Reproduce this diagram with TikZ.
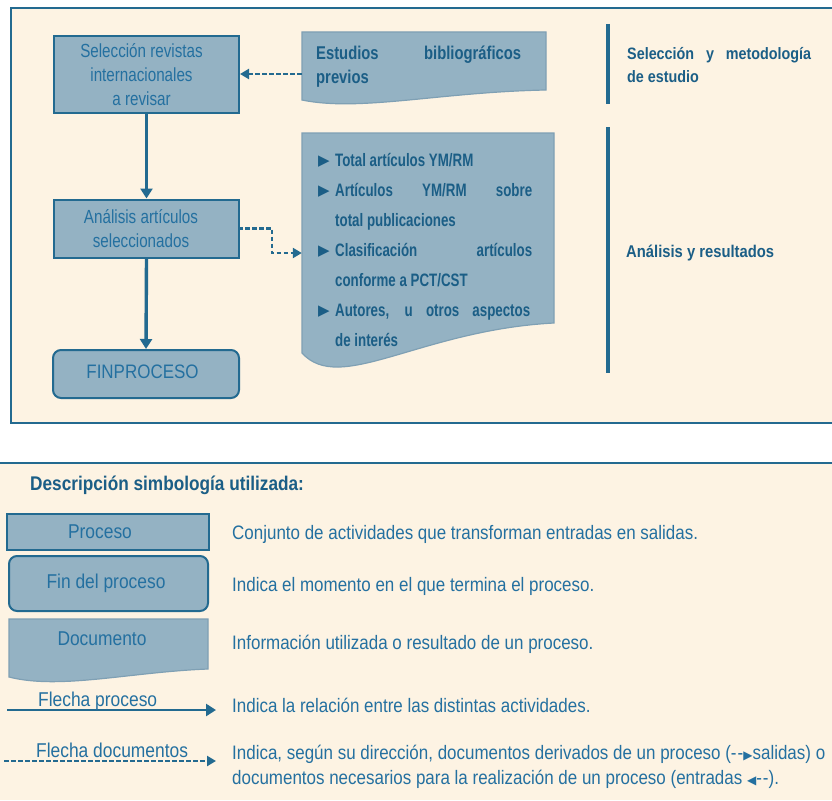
\documentclass[tikz,border=0pt]{standalone}
\usepackage{fontspec}
\setmainfont{Liberation Sans}[FakeStretch=0.87]
\newfontfamily\boxf{Liberation Sans}[FakeStretch=0.80]
\newfontfamily\listf{Liberation Sans}[FakeStretch=0.74]
\newfontfamily\dejavu{DejaVu Sans}
\usetikzlibrary{arrows.meta,calc}
\definecolor{cream}{HTML}{FDF3E3}
\definecolor{boxc}{HTML}{94B2C3}
\definecolor{bordc}{HTML}{236A90}
\definecolor{txtc}{HTML}{2470A0}
\definecolor{boldc}{HTML}{1B5E86}
\definecolor{docbord}{HTML}{7FA0B4}
\newcommand{\bul}{\makebox[17pt][l]{\raisebox{0.5pt}{\dejavu\fontsize{15}{15}\selectfont ▶}}}
\tikzset{
  panel/.style={fill=cream, draw=bordc, line width=1.4pt},
  proc/.style={draw=bordc, fill=boxc, line width=2pt, text=txtc, align=center, inner sep=0pt, font=\boxf\fontsize{19}{24}\selectfont},
  finbox/.style={proc, rounded corners=8pt},
  docshape/.style={draw=docbord, fill=boxc, line width=1.2pt},
  anchorbox/.style={inner sep=0pt},
  flow/.style={draw=bordc, line width=3.4pt, -{Triangle[length=10pt,width=12pt]}},
  docarrow/.style={draw=bordc, line width=2.4pt, dash pattern=on 4.5pt off 2.5pt, -{Triangle[length=9pt,width=10pt]}},
  sepline/.style={draw=bordc, line width=3.2pt},
  lbl/.style={inner sep=0pt, text=txtc, font=\fontsize{19.5}{24}\selectfont},
  boldlbl/.style={inner sep=0pt, text=boldc, align=left, font=\bfseries\fontsize{16.5}{23}\selectfont},
}
\begin{document}
\begin{tikzpicture}[x=1pt,y=-1pt]
\useasboundingbox (0,0) rectangle (832,800);
\fill[white] (0,0) rectangle (832,800);
% panels
\draw[panel] (11,8) rectangle (845,423);
\fill[cream] (0,463) rectangle (832,800);
\draw[bordc, line width=1.4pt] (0,463) -- (832,463);

% top flow boxes
\node[proc, minimum width=185pt, minimum height=77pt] (sel) at (146.5,74.5) {Selección revistas\kern10pt\\internacionales\kern10pt\\a revisar\kern10pt};
\node[proc, minimum width=185pt, minimum height=58pt] (ana) at (146.5,228.5) {Análisis artículos\kern11pt\\seleccionados\kern11pt};
\node[finbox, minimum width=186pt, minimum height=48pt, font=\fontsize{19.5}{24}\selectfont] (fin) at (146,374) {\raisebox{4pt}{FINPROCESO\hspace{7pt}}};

% document: Estudios
\draw[docshape] (302,32) -- (546,32) -- (546,90) .. controls (440,92) and (360,112) .. (302,100) -- cycle;
\node[anchorbox, minimum width=244pt, minimum height=58pt] (est) at (424,61) {};
\node[inner sep=0pt, anchor=north west, text=boldc, align=left, font=\boxf\bfseries\fontsize{18.5}{24}\selectfont] (esttxt) at (316,46) {\makebox[205pt][s]{Estudios bibliográficos}\\previos};

% document: results
\draw[docshape] (302,133) -- (554,133) -- (554,323) .. controls (420,330) and (340,395) .. (302,353) -- cycle;
\node[anchorbox, minimum width=252pt, minimum height=190pt] (res) at (428,228) {};
\node[inner sep=0pt, anchor=north west, text=boldc, align=left, font=\listf\bfseries\fontsize{18}{30}\selectfont] (restxt) at (318,153) {%
\bul\makebox[197pt][l]{Total artículos YM/RM}\\
\bul\makebox[197pt][s]{Artículos YM/RM sobre}\\
\hspace*{17pt}total publicaciones\\
\bul\makebox[197pt][s]{Clasificación artículos}\\
\hspace*{17pt}conforme a PCT/CST\\
\bul\makebox[195pt][s]{Autores, u otros aspectos}\\
\hspace*{17pt}de interés};

% connectors
\draw[flow] (sel.south) -- (ana.north);
\draw[flow] (ana.south) -- (fin.north);
\draw[docarrow] (est.west |- 0,74) -- (sel.east |- 0,74);
\draw[docarrow] ([xshift=-2pt]ana.east) -- ++(34,0) |- ([yshift=-25pt]res.west);

% separators and phase labels
\draw[sepline] (608,24) -- (608,104);
\draw[sepline] (608,127) -- (608,373);
\node[boldlbl, anchor=north west] (ph1) at (627,47) {\makebox[184pt][s]{Selección y metodología}\\de estudio};
\node[boldlbl, anchor=base west, font=\bfseries\fontsize{17}{23}\selectfont] (ph2) at (626,257) {Análisis y resultados};

% legend
\node[inner sep=0pt, anchor=base west, text=boldc, font=\bfseries\fontsize{19.8}{24}\selectfont] (legt) at (30,490) {Descripción simbología utilizada:};

\node[proc, minimum width=202pt, minimum height=36pt, font=\fontsize{20}{24}\selectfont] (lproc) at (108,532) {Proceso\hspace{16pt}};
\node[finbox, minimum width=199pt, minimum height=55pt, font=\fontsize{20}{24}\selectfont] (lfin) at (108.5,583.5) {Fin del proceso\hspace{5pt}};
\draw[docshape] (9,619) -- (208,619) -- (208,669) .. controls (130,672) and (60,690) .. (9,677) -- cycle;
\node[lbl, anchor=base, font=\fontsize{20}{24}\selectfont] (ldoc) at (102,645) {Documento};

\coordinate (fpa) at (7,710);
\coordinate (fpb) at (216,710);
\draw[flow, line width=2.8pt] (fpa) -- (fpb);
\node[lbl, anchor=base west, font=\fontsize{20}{24}\selectfont] (fpl) at (38,706) {Flecha proceso};

\coordinate (fda) at (4,761);
\coordinate (fdb) at (216,761);
\draw[docarrow] (fda) -- (fdb);
\node[lbl, anchor=base west, font=\fontsize{20}{24}\selectfont] (fdl) at (36,757) {Flecha documentos};

\node[lbl, anchor=base west] (d1) at (232,539) {Conjunto de actividades que transforman entradas en salidas.};
\node[lbl, anchor=base west] (d2) at (232,591) {Indica el momento en el que termina el proceso.};
\node[lbl, anchor=base west] (d3) at (232,649) {Información utilizada o resultado de un proceso.};
\node[lbl, anchor=base west] (d4) at (232,712) {Indica la relación entre las distintas actividades.};
\node[lbl, anchor=base west] (d5) at (232,759) {Indica, según su dirección, documentos derivados de un proceso (-\kern1pt-{\dejavu\fontsize{12}{12}\selectfont ▶}salidas) o};
\node[lbl, anchor=base west] (d6) at (232,784) {documentos necesarios para la realización de un proceso (entradas {\dejavu\fontsize{12}{12}\selectfont ◀}-\kern1pt-).};
\end{tikzpicture}
\end{document}
